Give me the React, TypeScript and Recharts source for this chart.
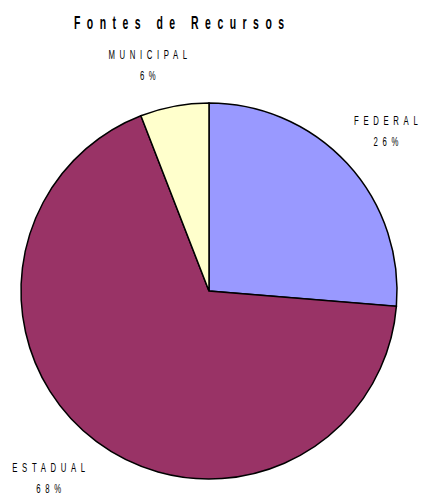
import { PieChart, Pie, Cell } from 'recharts';

// Fontes de Recursos - share by source (labels show rounded %)
const names = ['FEDERAL', 'ESTADUAL', 'MUNICIPAL'];
const shares = [26.3, 67.8, 5.9];
const colors = ['#9999FF', '#993366', '#FFFFCC'];

const data = names.map((name, i) => ({ name, value: shares[i] }));

const RADIAN = Math.PI / 180;
const FONT = '"Liberation Sans", Arial, sans-serif';
const SX = 0.62; // condensed look of the original font
const LS = 7.5;

// small nudges so labels sit like the original's
const labelShift: Record<string, [number, number]> = {
    FEDERAL: [8.5, -3.3],
    ESTADUAL: [-23.4, 5.7],
    MUNICIPAL: [-19, 1],
};

const NarrowText = ({ x, y, children, size = 12.5, weight = 'normal', ls = LS, sx = SX }: any) => (
    <text
        transform={`translate(${x + (ls * sx) / 2},${y}) scale(${sx},1)`}
        textAnchor="middle"
        fill="#000"
        fontFamily={FONT}
        fontSize={size}
        fontWeight={weight}
        letterSpacing={ls}
    >
        {children}
    </text>
);

const renderLabel = (props: any) => {
    const { cx, cy, outerRadius, midAngle, name, percent } = props;
    const r = outerRadius + 41;
    const [dx, dy] = labelShift[name] || [0, 0];
    const x = cx + r * Math.cos(-midAngle * RADIAN) + dx;
    const y = cy + r * Math.sin(-midAngle * RADIAN) + dy;
    return (
        <g>
            <NarrowText x={x} y={y - 8}>{name}</NarrowText>
            <NarrowText x={x} y={y + 13}>{`${Math.round(percent * 100)}%`}</NarrowText>
        </g>
    );
};

export default function App() {
    return (
        <div style={{ position: 'absolute', left: 0, top: 0, width: 421, height: 496, background: '#fff' }}>
            <PieChart width={421} height={496} margin={{ top: 0, right: 0, bottom: 0, left: 0 }}>
                <Pie
                    data={data}
                    dataKey="value"
                    nameKey="name"
                    cx={209}
                    cy={291}
                    outerRadius={188}
                    startAngle={90}
                    endAngle={-270}
                    stroke="#000"
                    strokeWidth={1.5}
                    labelLine={false}
                    label={renderLabel}
                    isAnimationActive={false}
                >
                    {data.map((entry, index) => (
                        <Cell key={`cell-${index}`} fill={colors[index]} />
                    ))}
                </Pie>
            </PieChart>
            <svg width={421} height={40} style={{ position: 'absolute', left: 0, top: 0 }}>
                <NarrowText x={179} y={28.7} size={19} weight="bold" ls={11.8} sx={0.55}>
                    Fontes de Recursos
                </NarrowText>
            </svg>
        </div>
    );
}
